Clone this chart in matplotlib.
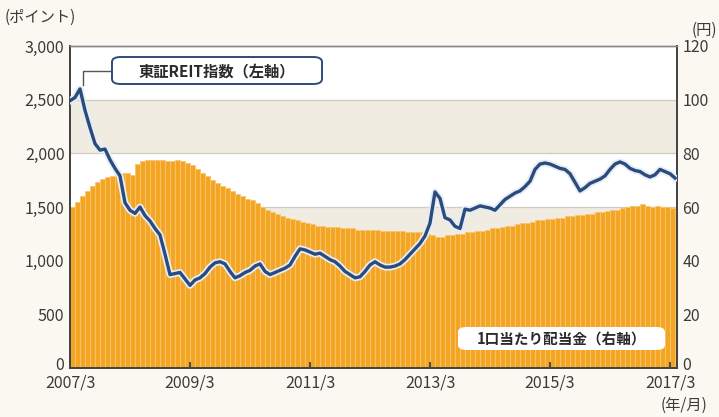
#!/usr/bin/env python3
"""
東証REIT指数と1口当たり配当金の推移 (2007/3 - 2017/3).
"""

import matplotlib

matplotlib.use("Agg")

import matplotlib.pyplot as plt
import matplotlib.patheffects as pe
from matplotlib.patches import FancyBboxPatch
from matplotlib.transforms import ScaledTranslation

plt.rcParams["font.family"] = ["Noto Sans CJK JP", "DejaVu Sans"]

W, H = 719, 417

# monthly points from 2007/3
REIT_INDEX = [
    2490, 2520, 2600, 2400, 2240, 2090, 2030, 2040, 1940, 1860,
    1790, 1540, 1470, 1440, 1500, 1420, 1370, 1300, 1240, 1060,
    870, 880, 890, 830, 770, 820, 840, 880, 940, 980,
    990, 970, 900, 840, 860, 890, 910, 950, 970, 900,
    870, 890, 910, 930, 960, 1040, 1110, 1100, 1080, 1060,
    1070, 1040, 1010, 990, 950, 900, 870, 840, 850, 900,
    960, 990, 960, 940, 940, 950, 970, 1010, 1060, 1110,
    1160, 1230, 1350, 1640, 1580, 1400, 1380, 1320, 1300, 1480,
    1470, 1490, 1510, 1500, 1490, 1470, 1520, 1570, 1600, 1630,
    1650, 1690, 1740, 1850, 1900, 1910, 1900, 1880, 1860, 1850,
    1810, 1730, 1650, 1680, 1720, 1740, 1760, 1790, 1850, 1900,
    1920, 1900, 1860, 1840, 1830, 1800, 1780, 1800, 1850, 1830,
    1810, 1770,
]

DIVIDEND = [
    60, 62, 64, 66, 68, 69.5, 70.5, 71, 71.5, 72,
    72.5, 72.5, 72, 76, 77, 77.5, 77.5, 77.5, 77.5, 77,
    77, 77.5, 77, 76.5, 75.5, 74, 72.5, 71.5, 70, 69,
    68, 67, 66, 65, 64, 63, 62.5, 61.5, 60, 59,
    58, 57.5, 56.5, 56, 55.5, 55, 54.5, 54, 53.5, 53,
    53, 52.5, 52.5, 52.5, 52, 52, 52, 51.5, 51.5, 51.5,
    51.5, 51.5, 51, 51, 51, 51, 51, 50.5, 50.5, 50.5,
    50.5, 50, 49.5, 49, 49, 49.5, 49.5, 50, 50, 50.5,
    50.5, 51, 51, 51.5, 52, 52, 52.5, 53, 53, 53.5,
    54, 54, 54.5, 55, 55, 55.5, 55.5, 56, 56, 56.5,
    56.5, 57, 57, 57.5, 57.5, 58, 58, 58.5, 59, 59,
    59.5, 60, 60.5, 60.5, 61, 60.5, 60, 60.5, 60, 60,
    59.5, 59.5,
]

X_TICK_POS = [0, 24, 48, 72, 96, 120]
X_TICK_LABELS = ["2007/3", "2009/3", "2011/3", "2013/3", "2015/3", "2017/3"]
LEFT_TICKS = [0, 500, 1000, 1500, 2000, 2500, 3000]
RIGHT_TICKS = [0, 20, 40, 60, 80, 100, 120]

BG = "#fbf8f1"
BAND = "#f0ece2"
ORANGE = "#f5a524"
ORANGE_LIGHT = "#f9c56e"
NAVY = "#2d4b7a"
TEXT = "#3a3a3a"


def px_box(fig, x0, y0, x1, y1, **kw):
    # box given in picture pixels from the top-left corner
    patch = FancyBboxPatch(
        (x0 / W, 1 - y1 / H),
        (x1 - x0) / W,
        (y1 - y0) / H,
        boxstyle="round,pad=0,rounding_size=0.012",
        transform=fig.transFigure,
        zorder=10,
        **kw,
    )
    fig.patches.append(patch)


fig = plt.figure(figsize=(W / 100, H / 100), dpi=100, facecolor=BG)
ax2 = fig.add_axes([70 / W, 49 / H, 607 / W, 322 / H])
ax = ax2.twinx()
ax.yaxis.tick_left()
ax2.yaxis.tick_right()

ax.set_xlim(0, 121.4)
ax.set_ylim(0, 3000)
ax2.set_ylim(0, 120)
ax2.set_facecolor("white")
ax.patch.set_visible(False)

for lo in (0, 1000, 2000):
    ax2.axhspan(lo / 25, (lo + 500) / 25, color=BAND, zorder=0, lw=0)
for v in (500, 1000, 1500, 2000, 2500):
    ax2.axhline(v / 25, color="#cfcbc0", lw=0.9, zorder=0.5)

months = list(range(len(DIVIDEND)))
ax2.bar(months, DIVIDEND, width=1.0, align="edge", color=ORANGE,
        edgecolor=ORANGE_LIGHT, linewidth=0.6, zorder=1)

ax.plot(range(len(REIT_INDEX)), REIT_INDEX, color=NAVY, lw=2.4, zorder=3,
        solid_joinstyle="round",
        path_effects=[pe.Stroke(linewidth=5, foreground="#e3eef7"), pe.Normal()])

# leader from the label box to the 2007 peak
ax.plot([8.6, 2.6, 2.6], [2767, 2767, 2640], color="#555555", lw=1.0, zorder=3)

px_box(fig, 112, 57, 322, 84, fc="white", ec=NAVY, lw=1.4)
fig.text(217 / W, 1 - 71 / H, "東証REIT指数（左軸）", ha="center", va="center",
         fontsize=11, fontweight="bold", color="#2a2a2a", zorder=11)
px_box(fig, 458, 327, 665, 350, fc="white", ec="none")
fig.text(561 / W, 1 - 339 / H, "1口当たり配当金（右軸）", ha="center", va="center",
         fontsize=10.5, fontweight="bold", color="#2a2a2a", zorder=11)

ax.set_xticks(X_TICK_POS)
ax.set_xticklabels(X_TICK_LABELS)
ax.set_yticks(LEFT_TICKS)
ax.set_yticklabels([f"{v:,}" for v in LEFT_TICKS])
ax2.set_yticks(RIGHT_TICKS)
ax2.set_yticklabels([str(v) for v in RIGHT_TICKS])

ax2.tick_params(axis="x", direction="in", length=4, width=1.2, color="#333333",
                labelsize=11.5, labelcolor=TEXT, pad=5)
ax.tick_params(axis="y", length=0, labelsize=11.5, labelcolor=TEXT, pad=4)
ax2.tick_params(axis="y", length=0, labelsize=11.5, labelcolor=TEXT, pad=4)

# lift the two zero labels a little so they clear the date labels
lift = ScaledTranslation(0, 4 / 100, fig.dpi_scale_trans)
for lab in (ax.get_yticklabels()[0], ax2.get_yticklabels()[0]):
    lab.set_transform(lab.get_transform() + lift)

for a in (ax, ax2):
    for side in ("left", "right", "bottom"):
        a.spines[side].set_color("#444444")
        a.spines[side].set_linewidth(1.3)
    a.spines["top"].set_color("#888888")
    a.spines["top"].set_linewidth(1.0)

fig.text(5 / W, 1 - 17 / H, "(ポイント)", fontsize=11, color=TEXT, va="center")
fig.text(1 - 2 / W, 1 - 30 / H, "(円)", fontsize=11, color=TEXT, ha="right", va="center")
fig.text(684 / W, 1 - 405 / H, "(年/月)", fontsize=11, color=TEXT, ha="center", va="center")

fig.savefig("out.png", dpi=100, facecolor=BG)
